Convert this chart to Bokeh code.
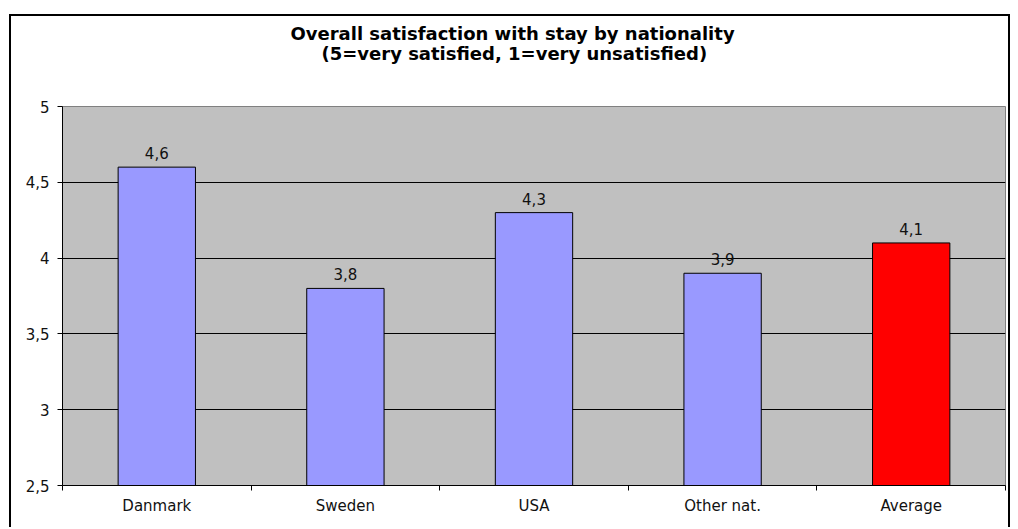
from bokeh.plotting import figure
from bokeh.models import FixedTicker, Title, ColumnDataSource
from bokeh.core.properties import value
from bokeh.embed import file_html
from bokeh.resources import INLINE

categories = ["Danmark", "Sweden", "USA", "Other nat.", "Average"]
scores = [4.6, 3.8, 4.3, 3.9, 4.1]
bar_colors = ["#9999FF", "#9999FF", "#9999FF", "#9999FF", "#FF0000"]
y_ticks = [2.5, 3.0, 3.5, 4.0, 4.5, 5.0]
y_tick_labels = ["2,5", "3", "3,5", "4", "4,5", "5"]
title_main = "Overall satisfaction with stay by nationality"
title_sub = "(5=very satisfied, 1=very unsatisfied)"

FONT = "DejaVu Sans"

xs = [i + 0.5 for i in range(len(categories))]
src = ColumnDataSource(dict(
    x=xs, top=scores, color=bar_colors,
    label=[f"{v:.1f}".replace(".", ",") for v in scores],
))

p = figure(width=1001, height=513, output_backend="svg", toolbar_location=None,
           x_range=(0, len(categories)), y_range=(2.5, 5.0),
           min_border_left=51, min_border_right=7, min_border_top=90,
           min_border_bottom=44)
p.margin = (14, 0, 0, 9)
p.styles = {"border-left": "2px solid black", "border-top": "2px solid black",
            "border-right": "2px solid black"}

p.background_fill_color = "#C0C0C0"
p.border_fill_color = "white"
p.outline_line_color = "#808080"
p.outline_line_width = 1

p.vbar(x="x", top="top", bottom=2.5, width=0.41, fill_color="color",
       line_color="black", line_width=1, source=src)
p.text(x="x", y="top", text="label", source=src, y_offset=-8,
       text_align="center", text_baseline="bottom",
       text_font=value(FONT), text_font_size="15px", text_color="#111111")

# y axis
p.yaxis.ticker = FixedTicker(ticks=y_ticks)
p.yaxis.major_label_overrides = {t: l for t, l in zip(y_ticks, y_tick_labels)}
p.yaxis.major_tick_out = 5
p.yaxis.major_tick_in = 0
p.yaxis.minor_tick_out = 0
p.yaxis.minor_tick_in = 0
p.yaxis.axis_line_color = "black"
p.yaxis.major_label_standoff = 8
p.yaxis.major_label_text_font = FONT
p.yaxis.major_label_text_font_size = "15px"
p.yaxis.major_label_text_color = "#111111"

# x axis
p.xaxis.ticker = FixedTicker(ticks=xs, minor_ticks=list(range(len(categories) + 1)))
p.xaxis.major_label_overrides = {x: c for x, c in zip(xs, categories)}
p.xaxis.major_tick_out = 0
p.xaxis.major_tick_in = 0
p.xaxis.minor_tick_out = 5
p.xaxis.minor_tick_in = 0
p.xaxis.axis_line_color = "black"
p.xaxis.major_label_standoff = 6
p.xaxis.major_label_text_font = FONT
p.xaxis.major_label_text_font_size = "15px"
p.xaxis.major_label_text_color = "#111111"

p.xgrid.visible = False
p.ygrid.ticker = FixedTicker(ticks=[3.0, 3.5, 4.0, 4.5])
p.ygrid.grid_line_color = "black"
p.ygrid.grid_line_width = 1

# spacer between frame and titles
p.add_layout(Title(text=" ", text_font_size="1px", standoff=40), "above")
p.add_layout(Title(text=title_sub, align="left", offset=259,
                   text_font=FONT, text_font_size="18px", text_font_style="bold",
                   text_color="black", standoff=0), "above")
p.add_layout(Title(text=title_main, align="left", offset=228,
                   text_font=FONT, text_font_size="18px", text_font_style="bold",
                   text_color="black", standoff=-6), "above")

open("out.html", "w").write(file_html(p, INLINE))
